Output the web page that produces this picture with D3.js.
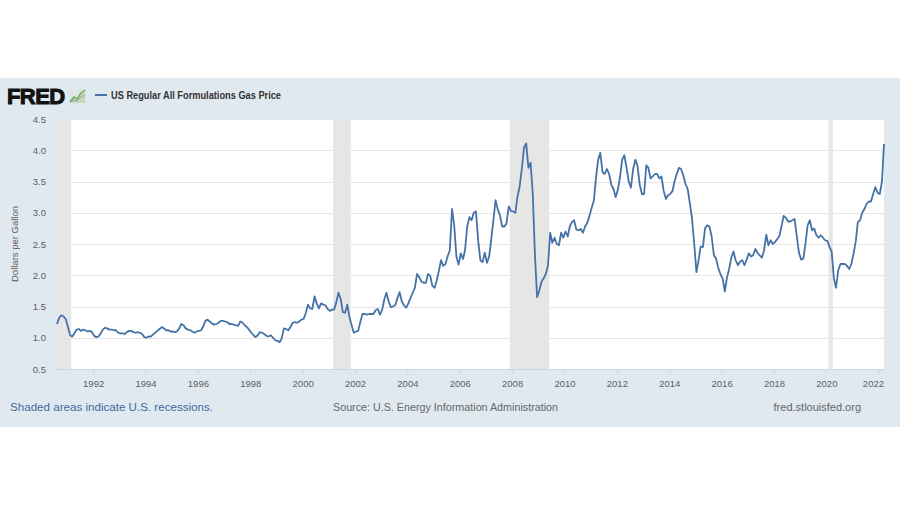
<!DOCTYPE html>
<html>
<head>
<meta charset="utf-8">
<script src="https://cdn.jsdelivr.net/npm/d3@7"></script>
<style>
  html, body { margin: 0; padding: 0; background: #ffffff; }
  svg { display: block; font-family: "Liberation Sans", Arial, sans-serif; }
</style>
</head>
<body>
<svg id="chart" width="900" height="506"></svg>
<script>
// ---- Data (monthly, starting Aug 1990) ----
const seriesName = "US Regular All Formulations Gas Price";
const startYear = 1990, startMonthIndex = 7; // August
const prices = [
  // 1990 Aug-Dec
  1.22, 1.32, 1.36, 1.34, 1.30,
  // 1991
  1.17, 1.04, 1.02, 1.07, 1.13, 1.14, 1.11, 1.13, 1.12, 1.10, 1.11, 1.09,
  // 1992
  1.03, 1.01, 1.02, 1.07, 1.13, 1.16, 1.15, 1.13, 1.13, 1.12, 1.12, 1.08,
  // 1993
  1.07, 1.07, 1.06, 1.09, 1.11, 1.11, 1.09, 1.08, 1.09, 1.08, 1.06, 1.01,
  // 1994
  1.00, 1.02, 1.02, 1.05, 1.08, 1.11, 1.14, 1.17, 1.15, 1.12, 1.12, 1.10,
  // 1995
  1.10, 1.09, 1.10, 1.15, 1.22, 1.20, 1.15, 1.13, 1.12, 1.10, 1.08, 1.10,
  // 1996
  1.11, 1.12, 1.18, 1.27, 1.29, 1.26, 1.23, 1.21, 1.22, 1.24, 1.27, 1.27,
  // 1997
  1.26, 1.25, 1.22, 1.22, 1.21, 1.20, 1.19, 1.26, 1.24, 1.20, 1.17, 1.13,
  // 1998
  1.08, 1.04, 1.01, 1.04, 1.09, 1.08, 1.06, 1.03, 1.02, 1.04, 1.00, 0.96,
  // 1999
  0.95, 0.93, 0.99, 1.15, 1.14, 1.12, 1.17, 1.24, 1.25, 1.24, 1.26, 1.29,
  // 2000
  1.30, 1.40, 1.53, 1.47, 1.46, 1.66, 1.55, 1.47, 1.55, 1.53, 1.52, 1.46,
  // 2001
  1.43, 1.45, 1.45, 1.57, 1.72, 1.62, 1.41, 1.40, 1.53, 1.33, 1.20, 1.08,
  // 2002
  1.10, 1.11, 1.25, 1.38, 1.38, 1.37, 1.38, 1.38, 1.38, 1.44, 1.46, 1.37,
  // 2003
  1.45, 1.62, 1.72, 1.58, 1.49, 1.50, 1.52, 1.63, 1.73, 1.58, 1.52, 1.48,
  // 2004
  1.55, 1.64, 1.72, 1.80, 2.02, 1.97, 1.90, 1.88, 1.88, 2.02, 1.99, 1.83,
  // 2005
  1.80, 1.92, 2.07, 2.24, 2.15, 2.18, 2.30, 2.40, 3.06, 2.80, 2.30, 2.17,
  // 2006
  2.35, 2.26, 2.40, 2.78, 2.93, 2.88, 3.00, 3.02, 2.55, 2.24, 2.21, 2.36,
  // 2007
  2.20, 2.30, 2.57, 2.88, 3.20, 3.05, 2.96, 2.78, 2.78, 2.83, 3.10, 3.03,
  // 2008
  3.02, 3.00, 3.25, 3.42, 3.70, 4.04, 4.11, 3.72, 3.80, 3.30, 2.30, 1.65,
  // 2009
  1.76, 1.90, 1.95, 2.02, 2.15, 2.68, 2.52, 2.60, 2.50, 2.48, 2.68, 2.60,
  // 2010
  2.70, 2.62, 2.78, 2.85, 2.88, 2.73, 2.72, 2.74, 2.68, 2.78, 2.84, 2.95,
  // 2011
  3.08, 3.20, 3.55, 3.85, 3.96, 3.65, 3.62, 3.70, 3.62, 3.45, 3.38, 3.25,
  // 2012
  3.37, 3.58, 3.85, 3.92, 3.72, 3.50, 3.40, 3.70, 3.85, 3.75, 3.45, 3.30,
  // 2013
  3.30, 3.76, 3.72, 3.55, 3.58, 3.62, 3.62, 3.55, 3.58, 3.35, 3.22, 3.28,
  // 2014
  3.30, 3.35, 3.50, 3.62, 3.72, 3.70, 3.60, 3.46, 3.38, 3.15, 2.90, 2.50,
  // 2015
  2.05, 2.25, 2.46, 2.45, 2.75, 2.80, 2.78, 2.62, 2.32, 2.27, 2.12, 2.02,
  // 2016
  1.95, 1.74, 1.96, 2.10, 2.28, 2.38, 2.24, 2.16, 2.22, 2.24, 2.16, 2.25,
  // 2017
  2.35, 2.30, 2.32, 2.42, 2.36, 2.32, 2.28, 2.40, 2.65, 2.48, 2.56, 2.50,
  // 2018
  2.53, 2.58, 2.62, 2.78, 2.95, 2.92, 2.86, 2.86, 2.88, 2.90, 2.62, 2.36,
  // 2019
  2.25, 2.27, 2.50, 2.80, 2.88, 2.72, 2.75, 2.64, 2.60, 2.64, 2.60, 2.56,
  // 2020
  2.55, 2.45, 2.38, 1.95, 1.80, 2.08, 2.18, 2.18, 2.18, 2.15, 2.10, 2.18,
  // 2021
  2.35, 2.55, 2.85, 2.88, 3.00, 3.06, 3.14, 3.18, 3.18, 3.30, 3.41, 3.32,
  // 2022 Jan-Mar
  3.30, 3.50, 4.10
];

const recessionStarts = ["1990-07-01", "2001-03-01", "2007-12-01", "2020-02-01"];
const recessionEnds   = ["1991-03-01", "2001-11-01", "2009-06-01", "2020-04-01"];

const yTicks = [0.5, 1.0, 1.5, 2.0, 2.5, 3.0, 3.5, 4.0, 4.5];

const footerLeft = "Shaded areas indicate U.S. recessions.";
const footerSource = "Source: U.S. Energy Information Administration";
const footerRight = "fred.stlouisfed.org";
const yTitle = "Dollars per Gallon";

// ---- Build ----
const dates = prices.map((_, i) => new Date(startYear, startMonthIndex + i, 15));
const data = prices.map((v, i) => ({ date: dates[i], value: v }));

const svg = d3.select("#chart");
const plot = { left: 56, right: 884, top: 119, bottom: 369 };

// panel background
svg.append("rect").attr("x", 0).attr("y", 78).attr("width", 900).attr("height", 349)
  .attr("fill", "#e1e9f0");

// plot background
svg.append("rect").attr("x", plot.left).attr("y", plot.top)
  .attr("width", plot.right - plot.left).attr("height", plot.bottom - plot.top)
  .attr("fill", "#ffffff");

const x = d3.scaleTime()
  .domain([dates[0], dates[dates.length - 1]])
  .range([57, 884]);

const y = d3.scaleLinear().domain([0.5, 4.5]).range([369, 119]);

// recessions
const parse = d3.timeParse("%Y-%m-%d");
svg.append("g").selectAll("rect")
  .data(recessionStarts.map((s, i) => [parse(s), parse(recessionEnds[i])]))
  .join("rect")
  .attr("x", d => Math.max(plot.left, x(d[0])))
  .attr("y", plot.top)
  .attr("width", d => Math.min(plot.right, x(d[1])) - Math.max(plot.left, x(d[0])))
  .attr("height", plot.bottom - plot.top)
  .attr("fill", "#e6e6e6");

// gridlines + y labels
const yAxis = d3.axisLeft(y).tickValues(yTicks)
  .tickSize(-(plot.right - plot.left)).tickPadding(10)
  .tickFormat(d3.format(".1f"));
const gy = svg.append("g").attr("transform", `translate(${plot.left},0)`).call(yAxis);
gy.select(".domain").remove();
gy.selectAll(".tick line").attr("stroke", "#e6e6e6").attr("stroke-width", 1)
  .attr("shape-rendering", "crispEdges");
gy.selectAll(".tick").filter(d => d === 0.5).select("line").attr("stroke", "none");
gy.selectAll(".tick text").attr("fill", "#606060").attr("font-size", 9.5)
  .attr("font-family", "Liberation Sans, Arial, sans-serif");

// x axis
const xAxis = d3.axisBottom(x).ticks(d3.timeYear.every(2))
  .tickSize(5).tickPadding(6).tickFormat(d3.timeFormat("%Y"));
const gx = svg.append("g").attr("transform", `translate(0,${plot.bottom})`).call(xAxis);
gx.select(".domain").attr("d", `M${plot.left},0.5H${plot.right}`).attr("stroke", "#ccd6eb");
gx.selectAll(".tick line").attr("stroke", "#ccd6eb");
gx.selectAll(".tick text").attr("fill", "#606060").attr("font-size", 9.5)
  .attr("font-family", "Liberation Sans, Arial, sans-serif");
// keep last label inside plot (like the original)
gx.selectAll(".tick").each(function () {
  const t = d3.select(this).select("text");
  const tx = +d3.select(this).attr("transform").match(/translate\(([-\d.]+)/)[1];
  const w = t.node().getComputedTextLength();
  if (tx + w / 2 > plot.right) t.attr("dx", plot.right - (tx + w / 2));
});

// line
svg.append("path").datum(data)
  .attr("fill", "none").attr("stroke", "#4572a7").attr("stroke-width", 1.8)
  .attr("stroke-linejoin", "round")
  .attr("d", d3.line().x(d => x(d.date)).y(d => y(d.value)));

// y title
svg.append("text").attr("transform", "translate(18,244) rotate(-90)")
  .attr("text-anchor", "middle").attr("fill", "#606060").attr("font-size", 9.5)
  .text(yTitle);

// header: FRED logo
svg.append("text").attr("x", 7).attr("y", 104).attr("font-size", 22)
  .attr("font-weight", 900).attr("fill", "#111111").attr("stroke", "#111111")
  .attr("stroke-width", 1).attr("letter-spacing", -0.6).text("FRED");
const icon = svg.append("g").attr("transform", "translate(69,88)");
icon.append("rect").attr("width", 17).attr("height", 15).attr("fill", "#dfe6e6");
icon.append("path").attr("d", "M1,15 L5,10 L8,12 L12,6 L16,3 L16,15 Z")
  .attr("fill", "#c7d8b8");
icon.append("polyline").attr("points", "1,14 5,9 8,11 12,5 16,2")
  .attr("fill", "none").attr("stroke", "#6aa84f").attr("stroke-width", 1.4);
icon.append("polyline").attr("points", "1,14 5,12 8,13 12,9 16,7")
  .attr("fill", "none").attr("stroke", "#8fa4b6").attr("stroke-width", 1);

// legend
svg.append("line").attr("x1", 95).attr("x2", 107).attr("y1", 95).attr("y2", 95)
  .attr("stroke", "#4572a7").attr("stroke-width", 2);
svg.append("text").attr("x", 111).attr("y", 98.5).attr("font-size", 10.5)
  .attr("font-weight", "bold").attr("fill", "#333333")
  .attr("textLength", 170).attr("lengthAdjust", "spacingAndGlyphs")
  .text(seriesName);

// footer
svg.append("text").attr("x", 10).attr("y", 411).attr("font-size", 11)
  .attr("fill", "#3e6aa0").attr("textLength", 203).attr("lengthAdjust", "spacingAndGlyphs")
  .text(footerLeft);
svg.append("text").attr("x", 333).attr("y", 411).attr("font-size", 11)
  .attr("fill", "#666666").attr("textLength", 225).attr("lengthAdjust", "spacingAndGlyphs")
  .text(footerSource);
svg.append("text").attr("x", 861).attr("y", 411).attr("font-size", 11)
  .attr("text-anchor", "end").attr("fill", "#666666").text(footerRight);
</script>
</body>
</html>
